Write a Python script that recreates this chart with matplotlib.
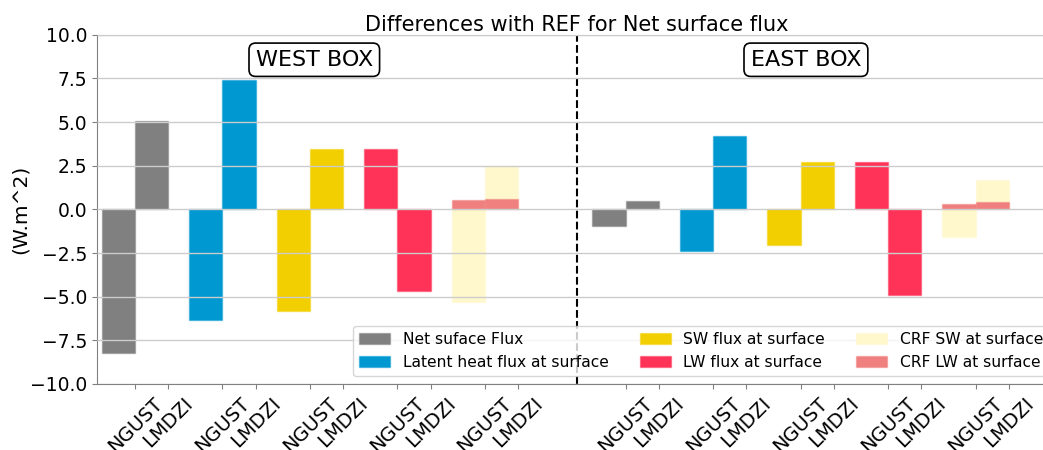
import numpy as np
import matplotlib
matplotlib.use("Agg")
import matplotlib.pyplot as plt
from matplotlib.colors import to_rgba

# Differences with REF (W.m^-2), [NGUST, LMDZI] for each quantity
quantities = ["Net suface Flux", "Latent heat flux at surface",
              "SW flux at surface", "LW flux at surface",
              "CRF SW at surface", "CRF LW at surface"]
models = ["NGUST", "LMDZI"]

west_net = [-8.22, 5.07]
west_latent = [-6.33, 7.40]
west_sw = [-5.80, 3.47]
west_lw = [3.43, -4.65]
west_crf_sw = [-5.28, 2.49]
west_crf_lw = [0.54, 0.62]

east_net = [-0.98, 0.49]
east_latent = [-2.36, 4.21]
east_sw = [-2.03, 2.72]
east_lw = [2.74, -4.88]
east_crf_sw = [-1.61, 1.69]
east_crf_lw = [0.32, 0.41]

colors = ["#808080", "#0098d0", "#f2cf00", "#ff3358", "#fff8cc", "#f08080"]

west = [west_net, west_latent, west_sw, west_lw, west_crf_sw, west_crf_lw]
east = [east_net, east_latent, east_sw, east_lw, east_crf_sw, east_crf_lw]

width = 0.38
west_pos = np.arange(5, dtype=float)
east_pos = np.arange(5, dtype=float) + 5.61
# CRF SW and CRF LW share the last slot of each box
slot = [0, 1, 2, 3, 4, 4]

fig = plt.figure(figsize=(10.43, 4.5), dpi=100)
ax = fig.add_axes([0.093, 0.1467, 0.9204, 0.776])

for box, pos in ((west, west_pos), (east, east_pos)):
    for k, vals in enumerate(box):
        g = pos[slot[k]]
        edge = to_rgba(colors[k], 0.45)
        lab = quantities[k] if pos is west_pos else None
        ax.bar([g - width, g], vals, width=width, align="edge",
               color=colors[k], edgecolor=edge, linewidth=1.0, label=lab)

ticks = []
labels = []
for pos in (west_pos, east_pos):
    for g in pos:
        ticks += [g, g + width]
        labels += models
ax.set_xticks(ticks)
ax.set_xticklabels(labels, rotation=45, fontsize=14)

ax.set_xlim(-0.434, 10.54)
ax.set_ylim(-10, 10)
ax.set_yticks(np.arange(-10, 10.01, 2.5))
ax.tick_params(axis="y", labelsize=13.5, colors="#808080", labelcolor="black")
ax.tick_params(axis="x", colors="#808080", labelcolor="black")
ax.set_ylabel("(W.m^2)", fontsize=14.5, labelpad=0)
ax.set_title("Differences with REF for Net surface flux", fontsize=15, pad=3)

ax.set_axisbelow(False)
ax.yaxis.grid(True, color="#cccccc", linewidth=1.0)

for s in ax.spines.values():
    s.set_color("#808080")

ax.axvline(5.05, color="black", linestyle="--", linewidth=1.5)

box_style = dict(boxstyle="round,pad=0.3", fc="white", ec="black", lw=1.2)
ax.text(2.05, 8.57, "WEST BOX", ha="center", va="center", fontsize=16, bbox=box_style)
ax.text(7.67, 8.57, "EAST BOX", ha="center", va="center", fontsize=16, bbox=box_style)

ax.legend(ncol=3, loc="lower right", fontsize=11.2)

fig.savefig("out.png", dpi=100)
